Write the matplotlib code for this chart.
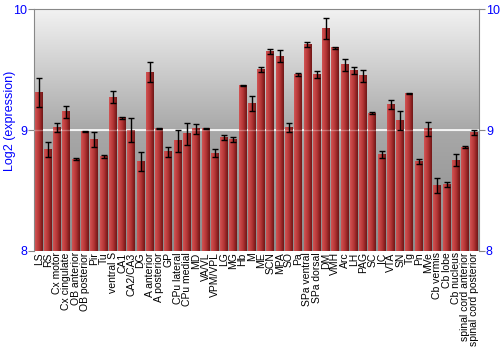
import numpy as np
import matplotlib
matplotlib.use("Agg")
import matplotlib.pyplot as plt
from matplotlib.colors import LinearSegmentedColormap

regions = [
    "LS", "RS", "Cx motor", "Cx cingulate", "OB anterior", "OB posterior",
    "Pir", "Tu", "ventral S", "CA1", "CA2/CA3", "DG", "A anterior",
    "A posterior", "GP", "CPu lateral", "CPu medial", "MD", "VA/VL",
    "VPM/VPL", "LG", "MG", "Hb", "M", "ME", "SCN", "MPA", "SO", "Pa",
    "SPa ventral", "SPa dorsal", "DM", "VMH", "Arc", "LH", "PAG", "SC", "IC",
    "VTA", "SN", "Tg", "Pn", "MVe", "Cb vermis", "Cb lobe", "Cb nucleus",
    "spinal cord anterior", "spinal cord posterior",
]
expression = [
    9.31, 8.84, 9.02, 9.15, 8.76, 8.99,
    8.92, 8.78, 9.27, 9.10, 9.00, 8.74, 9.48,
    9.015, 8.82, 8.91, 8.97, 9.01, 9.01,
    8.81, 8.94, 8.92, 9.37, 9.22, 9.50, 9.65, 9.61, 9.02, 9.46,
    9.71, 9.46, 9.84, 9.68, 9.54, 9.49, 9.45, 9.14, 8.80,
    9.21, 9.08, 9.30, 8.74, 9.01, 8.54, 8.55, 8.75,
    8.86, 8.98,
]
errors = [
    0.12, 0.06, 0.04, 0.05, 0.01, 0.004,
    0.06, 0.01, 0.05, 0.01, 0.10, 0.08, 0.085,
    0.005, 0.04, 0.09, 0.09, 0.04, 0.005,
    0.03, 0.02, 0.02, 0.005, 0.06, 0.02, 0.02, 0.05, 0.04, 0.01,
    0.02, 0.03, 0.09, 0.01, 0.05, 0.03, 0.05, 0.01, 0.03,
    0.04, 0.08, 0.005, 0.02, 0.06, 0.06, 0.02, 0.05,
    0.01, 0.02,
]

fig = plt.figure(figsize=(5, 3.5), dpi=100)
ax = fig.add_axes([0.068, 0.283, 0.89, 0.691])

x = np.arange(len(regions))
ax.set_xlim(-0.5, len(regions) - 0.5)
ax.set_ylim(8, 10)

# background gradient, light at top, darker at bottom
bg = LinearSegmentedColormap.from_list("bg", ["#8c8c8c", "#a8a8a8", "#f2f2f2"])
ax.imshow(np.linspace(0, 1, 256).reshape(-1, 1), cmap=bg, origin="lower",
          extent=(-0.5, len(regions) - 0.5, 8, 10), aspect="auto", zorder=0)
ax.axhline(9, color="white", lw=1.2, zorder=1)

bars = ax.bar(x, [v - 8 for v in expression], bottom=8, width=0.86,
              color="#b03030", zorder=2)

# horizontal shading on each bar
shade = LinearSegmentedColormap.from_list(
    "bar", ["#d05454", "#c44444", "#b43636", "#922424", "#701818"])
grad = np.linspace(0, 1, 64).reshape(1, -1)
for b in bars:
    x0, y0 = b.get_x(), b.get_y()
    ax.imshow(grad, cmap=shade, extent=(x0, x0 + b.get_width(), y0, y0 + b.get_height()),
              aspect="auto", zorder=2.5)

ax.axhline(9, color="white", lw=1.0, alpha=0.3, zorder=3)
ax.errorbar(x, expression, yerr=errors, fmt="none", ecolor="black",
            elinewidth=1, capsize=2, capthick=1, zorder=4)

ax.set_xticks(x)
ax.set_xticklabels(regions, rotation=90, fontsize=7.5, family="Liberation Sans")
ax.tick_params(axis="x", length=0, pad=1)

ax.set_yticks([8, 9, 10])
ax.set_yticklabels(["8", "9", "10"])
ax.tick_params(axis="y", colors="#888888", labelcolor="blue", labelsize=9,
               length=4, pad=1, direction="out", right=True, labelright=True)
for t in ax.yaxis.get_major_ticks():
    t.label1.set_family("Liberation Sans")
    t.label2.set_family("Liberation Sans")
ax.set_ylabel("Log2 (expression)", color="blue", fontsize=9,
              family="Liberation Sans")
ax.yaxis.set_label_coords(-0.040, 0.537)

for side in ["left", "right", "top"]:
    ax.spines[side].set_color("#888888")
ax.spines["bottom"].set_visible(False)

fig.savefig("out.png", dpi=100)
